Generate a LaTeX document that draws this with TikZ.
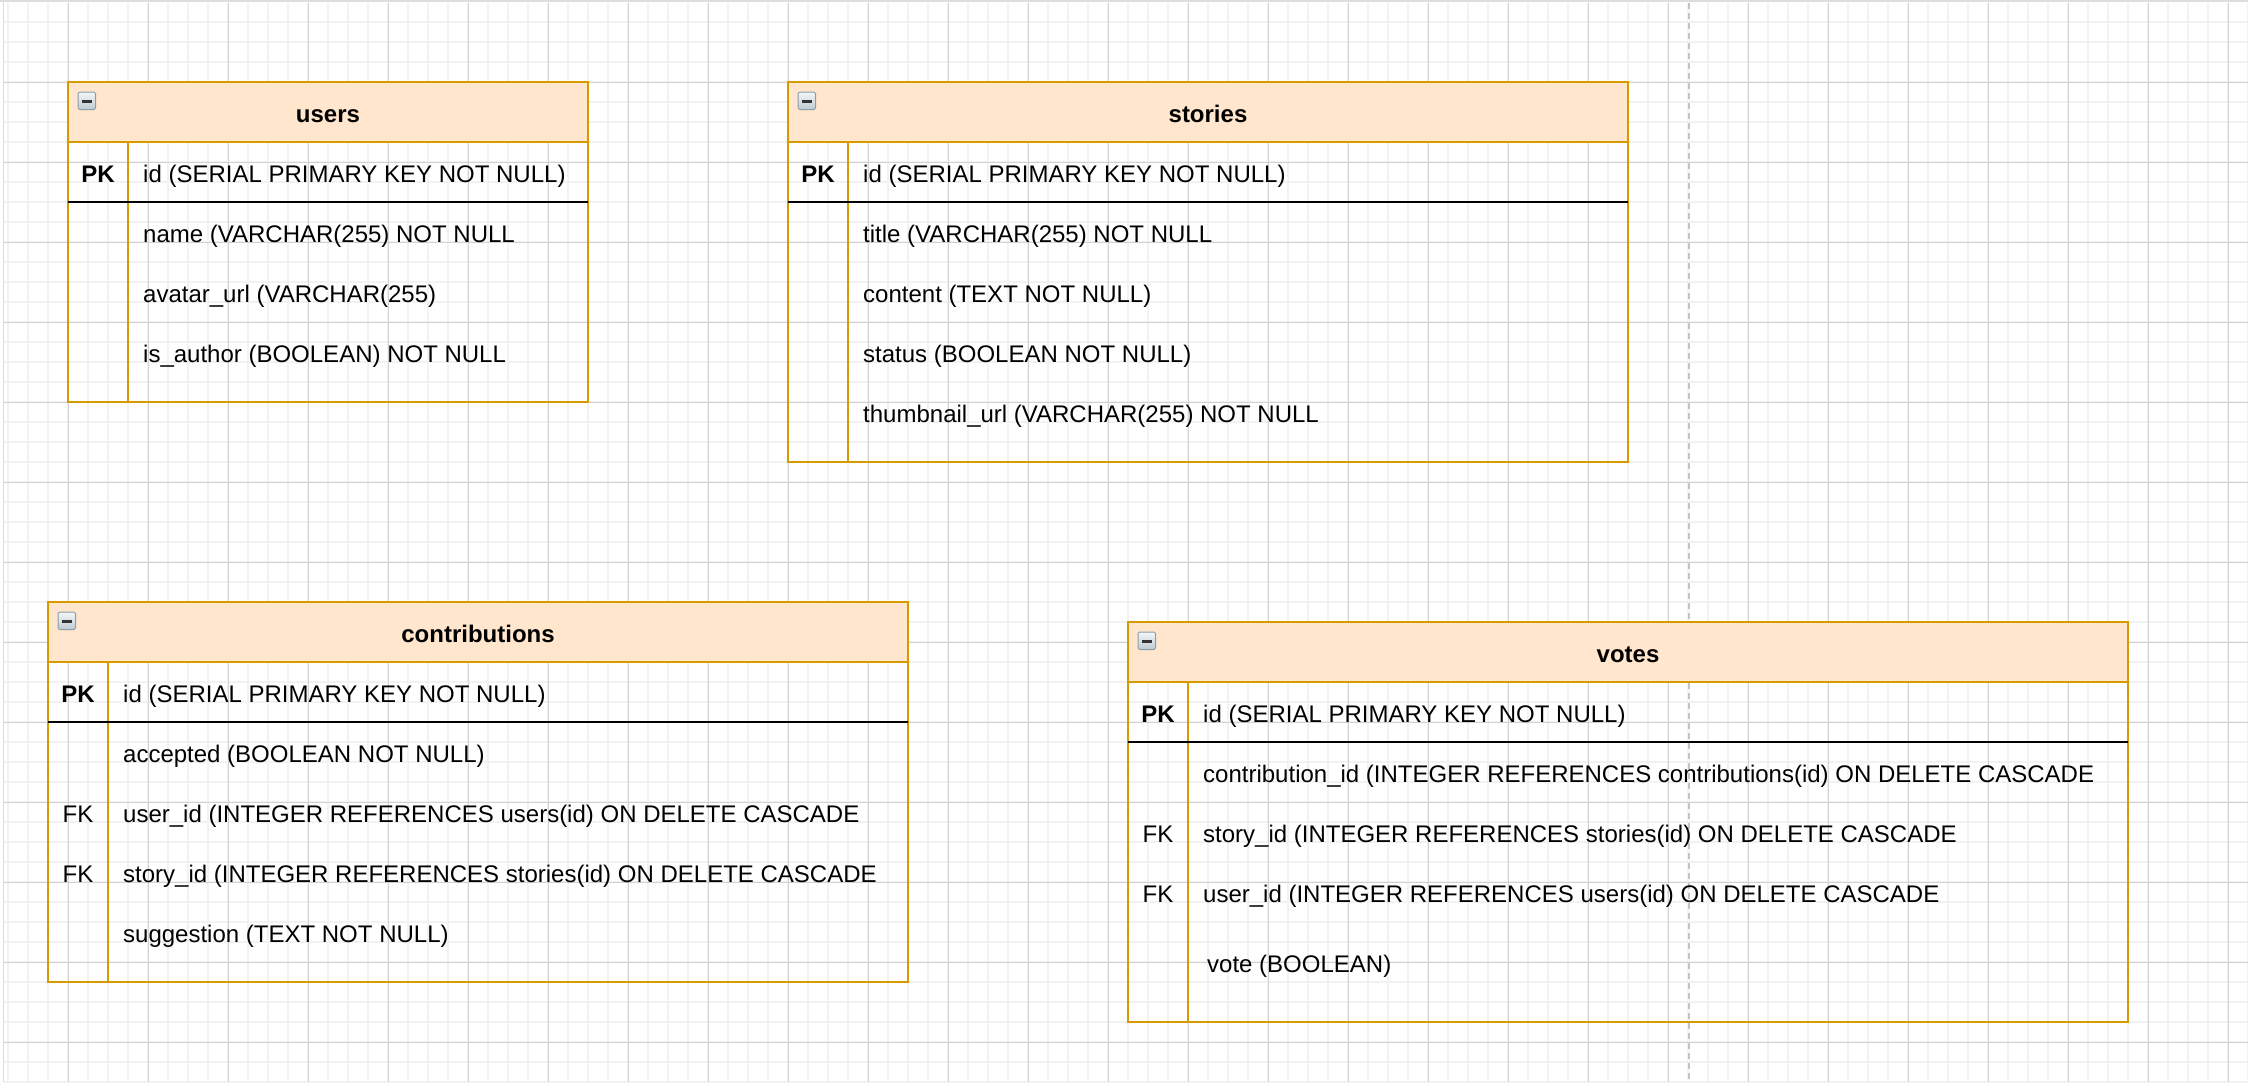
\documentclass[tikz,border=0pt]{standalone}
\usepackage{fontspec}
\setmainfont{Liberation Sans}
\definecolor{tblorange}{HTML}{D79B00}
\definecolor{hdrfill}{HTML}{FFE6CC}
\definecolor{gridminor}{HTML}{F2F2F2}
\definecolor{gridmajor}{HTML}{D2D2D2}
\definecolor{framegray}{HTML}{DDDDDD}
\definecolor{dashgray}{HTML}{C4C4C4}
\definecolor{icontop}{HTML}{F4F7F9}
\definecolor{iconbot}{HTML}{BCC9D2}
\definecolor{iconedge}{HTML}{8C9DAA}
\definecolor{iconbar}{HTML}{333333}
\newcommand\ERfont{\fontsize{24}{29}\selectfont}
\newcommand\ERframe[4]{%
  \pgfmathsetmacro\ERr{#1+#3}%
  \pgfmathsetmacro\ERb{#2+#4}%
  \pgfmathsetmacro\ERk{#1+60}%
  \pgfmathsetmacro\ERh{#2+60}%
  \pgfmathsetmacro\ERp{#2+120}%
  \pgfmathsetmacro\ERix{#1+10}%
  \pgfmathsetmacro\ERiy{#2+10}%
  \pgfmathsetmacro\ERbx{#1+13.5}%
  \pgfmathsetmacro\ERby{#2+17.5}%
  \draw[tblline] (#1,#2) rectangle (\ERr,\ERb);
  \draw[hdrbox] (#1,#2) rectangle (\ERr,\ERh);
  \draw[tblline] (\ERk,\ERh) -- (\ERk,\ERb);
  \draw[pkline] (#1,\ERp) -- (\ERr,\ERp);
  \shade[top color=icontop, bottom color=iconbot, draw=iconedge, line width=1pt, rounded corners=1.5pt] (\ERix,\ERiy) rectangle +(17.5,17.5);
  \fill[iconbar] (\ERbx,\ERby) rectangle +(10.5,3);
}
\tikzset{
  tblline/.style={draw=tblorange, line width=2pt},
  hdrbox/.style={draw=tblorange, fill=hdrfill, line width=2pt},
  pkline/.style={draw=black, line width=2pt},
  title/.style={anchor=base, inner sep=0pt, font=\ERfont\bfseries},
  field/.style={anchor=base west, inner sep=0pt, font=\ERfont},
  pkey/.style={anchor=base, inner sep=0pt, font=\ERfont\bfseries},
  fkey/.style={anchor=base, inner sep=0pt, font=\ERfont},
}
\begin{document}
\begin{tikzpicture}[x=1pt,y=-1pt]
\useasboundingbox (0,0) rectangle (2248,1082);
\fill[white] (0,0) rectangle (2248,1082);
% grid
\foreach \gx in {8,28,...,2248} \draw[gridminor, line width=1.5pt] (\gx,3) -- (\gx,1082);
\foreach \gy in {22,42,...,1082} \draw[gridminor, line width=1.5pt] (4,\gy) -- (2248,\gy);
\foreach \gx in {68,148,...,2228} \draw[gridmajor, line width=0.8pt] (\gx,3) -- (\gx,1082);
\foreach \gy in {82,162,...,1042} \draw[gridmajor, line width=0.8pt] (4,\gy) -- (2248,\gy);
\draw[framegray, line width=1.6pt] (0,0.8) -- (2248,0.8);
\draw[framegray, line width=1.6pt] (3.5,0) -- (3.5,1082);
% dashed guide
\draw[dashgray, line width=2pt, dash pattern=on 6pt off 4pt] (1689,3) -- (1689,1082);

% users
\ERframe{68}{82}{520}{320}
\node[title] (users) at (328,122) {users};
\node[pkey] (users-pk) at (98,182) {PK};
\node[field] (users-id) at (143,182) {id (SERIAL PRIMARY KEY NOT NULL)};
\node[field] (users-name) at (143,242) {name (VARCHAR(255) NOT NULL};
\node[field] (users-avatar) at (143,302) {avatar\_url (VARCHAR(255)};
\node[field] (users-author) at (143,362) {is\_author (BOOLEAN) NOT NULL};

% stories
\ERframe{788}{82}{840}{380}
\node[title] (stories) at (1208,122) {stories};
\node[pkey] (stories-pk) at (818,182) {PK};
\node[field] (stories-id) at (863,182) {id (SERIAL PRIMARY KEY NOT NULL)};
\node[field] (stories-title) at (863,242) {title (VARCHAR(255) NOT NULL};
\node[field] (stories-content) at (863,302) {content (TEXT NOT NULL)};
\node[field] (stories-status) at (863,362) {status (BOOLEAN NOT NULL)};
\node[field] (stories-thumb) at (863,422) {thumbnail\_url (VARCHAR(255) NOT NULL};

% contributions
\ERframe{48}{602}{860}{380}
\node[title] (contributions) at (478,642) {contributions};
\node[pkey] (contrib-pk) at (78,702) {PK};
\node[field] (contrib-id) at (123,702) {id (SERIAL PRIMARY KEY NOT NULL)};
\node[field] (contrib-accepted) at (123,762) {accepted (BOOLEAN NOT NULL)};
\node[fkey] (contrib-fk1) at (78,822) {FK};
\node[field] (contrib-user) at (123,822) {user\_id (INTEGER REFERENCES users(id) ON DELETE CASCADE};
\node[fkey] (contrib-fk2) at (78,882) {FK};
\node[field] (contrib-story) at (123,882) {story\_id (INTEGER REFERENCES stories(id) ON DELETE CASCADE};
\node[field] (contrib-sugg) at (123,942) {suggestion (TEXT NOT NULL)};

% votes
\ERframe{1128}{622}{1000}{400}
\node[title] (votes) at (1628,662) {votes};
\node[pkey] (votes-pk) at (1158,722) {PK};
\node[field] (votes-id) at (1203,722) {id (SERIAL PRIMARY KEY NOT NULL)};
\node[field] (votes-contrib) at (1203,782) {contribution\_id (INTEGER REFERENCES contributions(id) ON DELETE CASCADE};
\node[fkey] (votes-fk1) at (1158,842) {FK};
\node[field] (votes-story) at (1203,842) {story\_id (INTEGER REFERENCES stories(id) ON DELETE CASCADE};
\node[fkey] (votes-fk2) at (1158,902) {FK};
\node[field] (votes-user) at (1203,902) {user\_id (INTEGER REFERENCES users(id) ON DELETE CASCADE};
\node[field] (votes-vote) at (1207,972) {vote (BOOLEAN)};
\end{tikzpicture}
\end{document}
